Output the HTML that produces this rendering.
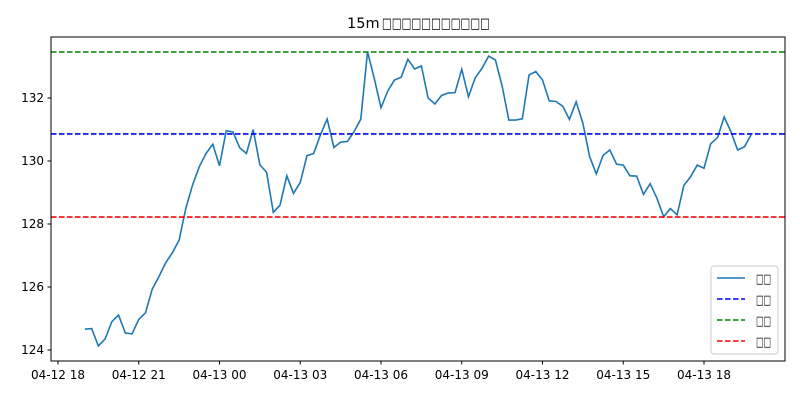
<!DOCTYPE html>
<html><head><meta charset="utf-8"><style>
body{margin:0;background:#fff;}
svg{display:block;font-family:"DejaVu Sans","Liberation Sans",sans-serif;}
</style></head><body>
<svg id="chart" width="800" height="400" xmlns="http://www.w3.org/2000/svg">
<g>
<text x="347" y="28" font-size="14.5">15m</text>
<text x="382" y="28" font-size="14.5" textLength="108" lengthAdjust="spacingAndGlyphs">□□□□□□□□□□□</text>
</g>
<g id="plot"></g>
<rect x="51" y="37" width="734" height="324" fill="none" stroke="#000" stroke-width="1"/>
<g>
<rect x="711" y="266" width="67" height="88" rx="3" fill="#fff" fill-opacity="0.8" stroke="#ccc"/>
<line x1="717" y1="278" x2="745" y2="278" stroke="#1f77b4" stroke-width="1.5"/>
<text x="756" y="283" font-size="13" textLength="15" lengthAdjust="spacingAndGlyphs">□□</text>
<line x1="717" y1="299" x2="745" y2="299" stroke="#0000ff" stroke-width="1.5" stroke-dasharray="5.5,2.5"/>
<text x="756" y="304" font-size="13" textLength="15" lengthAdjust="spacingAndGlyphs">□□</text>
<line x1="717" y1="320" x2="745" y2="320" stroke="#008000" stroke-width="1.5" stroke-dasharray="5.5,2.5"/>
<text x="756" y="325" font-size="13" textLength="15" lengthAdjust="spacingAndGlyphs">□□</text>
<line x1="717" y1="341" x2="745" y2="341" stroke="#ff0000" stroke-width="1.5" stroke-dasharray="5.5,2.5"/>
<text x="756" y="346" font-size="13" textLength="15" lengthAdjust="spacingAndGlyphs">□□</text>
</g>
</svg>
<script>
const prices=[124.66,124.68,124.13,124.35,124.90,125.11,124.54,124.51,124.97,125.18,125.93,126.33,126.77,127.09,127.49,128.50,129.24,129.82,130.24,130.53,129.85,130.96,130.92,130.42,130.24,131.00,129.88,129.64,128.37,128.60,129.53,128.97,129.32,130.17,130.24,130.83,131.33,130.43,130.60,130.62,130.93,131.33,133.47,132.62,131.69,132.22,132.57,132.66,133.23,132.92,133.02,132.00,
131.81,132.08,132.16,132.17,132.91,132.04,132.64,132.94,133.33,133.21,132.38,131.30,131.30,131.34,132.73,132.84,132.57,131.91,131.89,131.74,131.32,131.88,131.20,130.14,129.59,130.18,130.35,129.90,129.87,129.53,129.52,128.94,129.28,128.82,128.23,128.49,128.29,129.22,129.50,129.87,129.77,130.55,130.74,131.40,130.93,130.35,130.45,130.83];
const startStep=4; // 04-12 19:00 in 15-minute steps from 04-12 18:00
const levelHigh=133.46, levelMid=130.86, levelLow=128.22;
const yTicks=[124,126,128,130,132];
const xTickLabels=["04-12 18","04-12 21","04-13 00","04-13 03","04-13 06","04-13 09","04-13 12","04-13 15","04-13 18"];
const NS="http://www.w3.org/2000/svg";
const X=s=>58+s*80.75/12;
const Y=v=>350-(v-124)*31.5;
const g=document.getElementById('plot');
function mk(t,a){const e=document.createElementNS(NS,t);for(const k in a)e.setAttribute(k,a[k]);g.appendChild(e);return e;}
yTicks.forEach(v=>{
 const l=mk('line',{x1:47.5,x2:51,y1:Y(v),y2:Y(v),stroke:'#000'});
 
 
 const t=mk('text',{x:44,y:Y(v)+4,'font-size':12,'text-anchor':'end'});t.textContent=v;
 
 
});
xTickLabels.forEach((s,i)=>{
 const x=X(i*12);
 const l=mk('line',{x1:x,x2:x,y1:361,y2:364.5,stroke:'#000'});
 
 
 const t=mk('text',{x:x,y:379,'font-size':12,'text-anchor':'middle'});t.textContent=s;
 
 
});
const pts=prices.map((v,i)=>X(startStep+i).toFixed(2)+','+Y(v).toFixed(2)).join(' ');
const pl=mk('polyline',{points:pts,fill:'none',stroke:'#1f77b4','stroke-width':1.6});


[[levelMid,'#0000ff','mid-line'],[levelHigh,'#008000','high-line'],[levelLow,'#ff0000','low-line']].forEach(([v,c,n])=>{
 const l=mk('line',{x1:51,x2:785,y1:Y(v),y2:Y(v),stroke:c,'stroke-width':1.6,'stroke-dasharray':'5.5,2.5'});
 
 
});
</script>
</body></html>
